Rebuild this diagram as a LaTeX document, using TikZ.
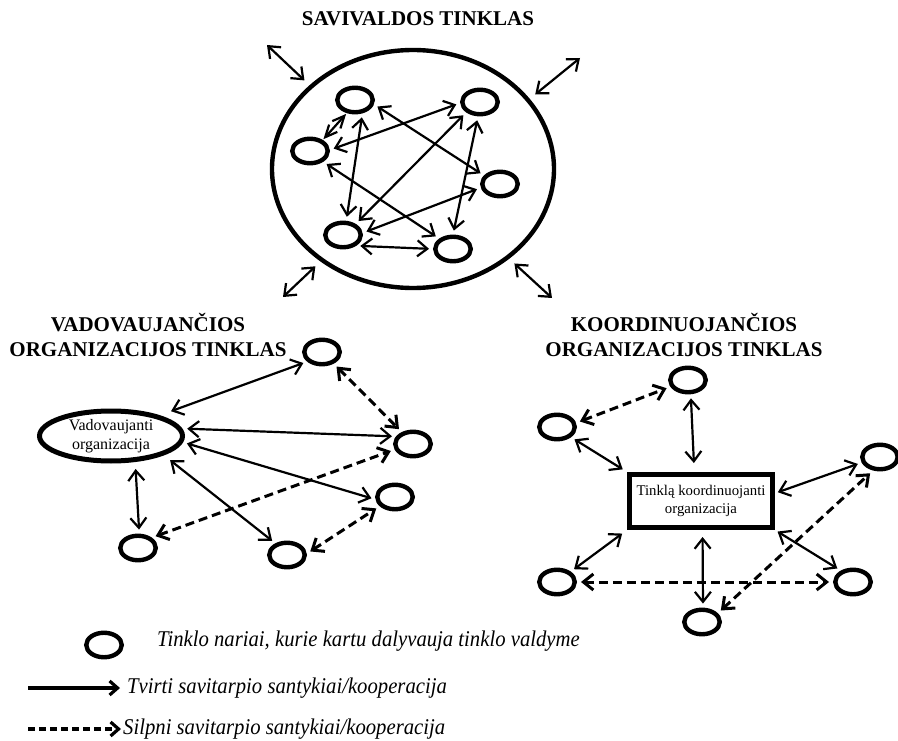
\documentclass[tikz,border=0pt]{standalone}
\usepackage{fontspec}
\setmainfont{Liberation Serif}
\newfontfamily\keyfont{Liberation Serif}[FakeStretch=0.92]
\usetikzlibrary{arrows.meta,shapes.geometric}

\tikzset{
  member/.style={draw, ellipse, line width=4.4pt, minimum width=35.5pt, minimum height=24.5pt, inner sep=0pt},
  barbs/.style={{Straight Barb[length=10pt,width=16pt]}-{Straight Barb[length=10pt,width=16pt]}},
  link/.style={barbs, line width=2.2pt, shorten <=4pt, shorten >=4pt},
  weak/.style={link, line width=3pt, dash pattern=on 9pt off 5pt},
  outward/.style={link, shorten <=0pt, shorten >=7pt},
  nettitle/.style={font=\bfseries\fontsize{21}{25}\selectfont, align=center, inner sep=0pt},
  orgtext/.style={font=\fontsize{16}{18.5}\selectfont, align=center, inner sep=0pt},
  boxtext/.style={font=\fontsize{14.8}{18}\selectfont, align=center, inner sep=0pt},
  keytext/.style={font=\keyfont\itshape\fontsize{22.5}{26}\selectfont, anchor=base west, inner sep=0pt},
  keyarrow/.style={line width=3.2pt, -{Straight Barb[length=8pt,width=14pt]}},
}

\begin{document}
\begin{tikzpicture}[x=1pt,y=-1pt]
\useasboundingbox (0,0) rectangle (898,741);

% ---------- self-governing network ----------
\node[nettitle, anchor=base] (toptitle) at (418,26) {SAVIVALDOS TINKLAS};
\node[draw, ellipse, line width=4.4pt, minimum width=282pt, minimum height=238pt] (self) at (413,169) {};

\node[member] (n1) at (355,100) {};
\node[member] (n2) at (480,102) {};
\node[member] (n3) at (310,151) {};
\node[member] (n4) at (500,184) {};
\node[member] (n5) at (343,235) {};
\node[member] (n6) at (453,249) {};

\draw[link, shorten <=1pt, shorten >=1pt,
      {Straight Barb[length=12pt,width=11pt]}-{Straight Barb[length=12pt,width=11pt]}] (n3.41) -- (n1.238);
\draw[link] (n1.-61) -- (n5.77);
\draw[link] (n1.-13) -- (n4.152);
\draw[link] (n3.3) -- (n2.183);
\draw[link] (n2.217) -- (n5.41);
\draw[link] (n2.262) -- (n6.90);
\draw[link] (n3.-39) -- (n6.143);
\draw[link] (n4.191) -- (n5.6);
\draw[link] (n5.-39) -- (n6.180);

\coordinate (outNW) at (267,45);
\coordinate (outNE) at (580,58);
\coordinate (outSW) at (283,297);
\coordinate (outSE) at (552,298);
\draw[outward] (outNW) -- (self.141);
\draw[outward] (outNE) -- (self.31);
\draw[outward] (outSW) -- (self.225);
\draw[outward] (outSE) -- (self.-43);

% ---------- network led by one organisation ----------
\node[nettitle] (lefttitle) at (148,335) {VADOVAUJANČIOS\\ORGANIZACIJOS TINKLAS};
\node[draw, ellipse, line width=5pt, minimum width=143pt, minimum height=50pt, orgtext] (vad) at (111,436) {Vadovaujanti\\organizacija};

\node[member] (l1) at (322,352) {};
\node[member] (l2) at (413,444) {};
\node[member] (l3) at (395,497) {};
\node[member] (l4) at (287,555) {};
\node[member] (l5) at (138,548) {};

\draw[link, shorten <=12pt] (vad.23) -- (l1.213);
\draw[link, shorten <=5pt] (vad.6) -- (l2.156);
\draw[link, shorten <=4pt] (vad.-5) -- (l3.187);
\draw[link, shorten <=8pt] (vad.-20) -- (l4.135);
\draw[link, shorten <=7pt] (vad.-47) -- (l5.85);
\draw[weak] (l1.-45) -- (l2.133);
\draw[weak] (l5.37) -- (l2.197);
\draw[weak] (l4.4) -- (l3.211);

% ---------- network with a coordinating organisation ----------
\node[nettitle] (righttitle) at (684,335) {KOORDINUOJANČIOS\\ORGANIZACIJOS TINKLAS};
\node[draw, line width=5pt, minimum width=143pt, minimum height=53pt, boxtext] (coord) at (701,501) {Tinklą koordinuojanti\\organizacija};

\node[member] (r1) at (688,380) {};
\node[member] (r2) at (557,427) {};
\node[member] (r3) at (880,457) {};
\node[member] (r4) at (557,582) {};
\node[member] (r5) at (853,582) {};
\node[member] (r6) at (702,622) {};

\draw[link, shorten >=9pt] (r1.-79) -- (coord.103);
\draw[weak] (r2.12) -- (r1.201);
\draw[link, shorten >=5pt] (r2.-36) -- (coord.north west);
\draw[link, shorten >=3pt] (r3.197) -- (coord.6);
\draw[link, shorten >=6pt] (r4.37) -- (coord.south west);
\draw[link, shorten <=7pt] (coord.-87) -- (r6.86);
\draw[link, shorten <=3pt] (coord.south east) -- (r5.137);
\draw[weak] (r4.0) -- (r5.180);
\draw[weak] (r6.29) -- (r3.243);

% ---------- legend ----------
\node[member] (keymember) at (104,645) {};
\node[keytext] (keymembertext) at (157,646) {Tinklo nariai, kurie kartu dalyvauja tinklo valdyme};

\coordinate (strongA) at (28,688);
\coordinate (strongB) at (120,688);
\draw[keyarrow] (strongA) -- (strongB);
\node[keytext] (strongtext) at (127,693) {Tvirti savitarpio santykiai/kooperacija};

\coordinate (weakA) at (28,729);
\coordinate (weakB) at (121,729);
\draw[keyarrow, dash pattern=on 7pt off 4pt] (weakA) -- (weakB);
\node[keytext] (weaktext) at (123,734) {Silpni savitarpio santykiai/kooperacija};
\end{tikzpicture}
\end{document}
